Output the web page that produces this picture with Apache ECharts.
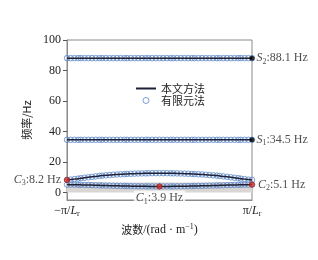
<!DOCTYPE html>
<html><head><meta charset="utf-8">
<script src="https://cdn.jsdelivr.net/npm/echarts@6/dist/echarts.min.js"></script>
<style>html,body{margin:0;padding:0;background:#fff}#c{width:318px;height:260px}</style>
</head><body><div id="c"></div>
<script>
// wave number grid, in units of pi/Lr
var waveK = [-1,-0.96,-0.92,-0.88,-0.85,-0.81,-0.77,-0.73,-0.69,-0.65,-0.62,-0.58,-0.54,-0.5,-0.46,-0.42,-0.38,-0.35,-0.31,-0.27,-0.23,-0.19,-0.15,-0.12,-0.08,-0.04,0,
  0.04,0.08,0.12,0.15,0.19,0.23,0.27,0.31,0.35,0.38,0.42,0.46,0.5,0.54,0.58,0.62,0.65,0.69,0.73,0.77,0.81,0.85,0.88,0.92,0.96,1];
var branchS2 = [88.1,88.1,88.1,88.1,88.1,88.1,88.1,88.1,88.1,88.1,88.1,88.1,88.1,88.1,88.1,88.1,88.1,88.1,88.1,88.1,88.1,88.1,88.1,88.1,88.1,88.1,88.1,
  88.1,88.1,88.1,88.1,88.1,88.1,88.1,88.1,88.1,88.1,88.1,88.1,88.1,88.1,88.1,88.1,88.1,88.1,88.1,88.1,88.1,88.1,88.1,88.1,88.1,88.1];
var branchS1 = [34.5,34.5,34.5,34.5,34.5,34.5,34.5,34.5,34.5,34.5,34.5,34.5,34.5,34.5,34.5,34.5,34.5,34.5,34.5,34.5,34.5,34.5,34.5,34.5,34.5,34.5,34.5,
  34.5,34.5,34.5,34.5,34.5,34.5,34.5,34.5,34.5,34.5,34.5,34.5,34.5,34.5,34.5,34.5,34.5,34.5,34.5,34.5,34.5,34.5,34.5,34.5,34.5,34.5];
var branchUpper = [8.2,8.4,8.7,9.0,9.3,9.6,9.9,10.2,10.5,10.8,11.0,11.2,11.4,11.6,11.75,11.9,12.0,12.1,12.2,12.3,12.4,12.45,12.5,12.55,12.6,12.6,12.6,
  12.6,12.6,12.55,12.5,12.45,12.4,12.3,12.2,12.1,12.0,11.9,11.75,11.6,11.4,11.2,11.0,10.8,10.5,10.2,9.9,9.6,9.3,9.0,8.7,8.4,8.2];
var branchLower = [5.1,5.08,5.04,5.0,4.95,4.9,4.85,4.78,4.7,4.63,4.56,4.5,4.43,4.37,4.3,4.25,4.2,4.15,4.1,4.06,4.02,3.99,3.96,3.94,3.92,3.91,3.9,
  3.91,3.92,3.94,3.96,3.99,4.02,4.06,4.1,4.15,4.2,4.25,4.3,4.37,4.43,4.5,4.56,4.63,4.7,4.78,4.85,4.9,4.95,5.0,5.04,5.08,5.1];
var yTicks = [0,20,40,60,80,100];
var xTicks = [-1,1];
var bandRange = [0,6.5];
// annotated points: [k, f, letter, sub, value text]
var blackPts = [[1,88.1,'S','2','88.1 Hz'],[1,34.5,'S','1','34.5 Hz']];
var redPts = [[-1,8.2,'C','3','8.2 Hz','left'],[1,5.1,'C','2','5.1 Hz','right'],[0,3.9,'C','1','3.9 Hz','bottom']];

var serif = '"Liberation Serif","DejaVu Serif",serif';
var cjk = '"Noto Sans CJK SC",sans-serif';
var lineColor = '#1c2038', circColor = '#5a86c8';
var rich = {
  t:{fontFamily:serif,fontSize:12,color:'#222'},
  i:{fontFamily:serif,fontSize:12,fontStyle:'italic',color:'#222'},
  s:{fontFamily:serif,fontSize:8,color:'#222',verticalAlign:'bottom',padding:[7,0,0,0]},
  c:{fontFamily:cjk,fontSize:11,color:'#222'}
};
function pairs(arr){return waveK.map(function(k,i){return [k,arr[i]];});}
var branches = [branchS2,branchS1,branchUpper,branchLower];
var series = [];
branches.forEach(function(b,bi){
  series.push({type:'scatter',name:'有限元法',data:pairs(b),symbol:'circle',symbolSize:5.5,z:2,
    itemStyle:{color:'rgba(255,255,255,0)',borderColor:circColor,borderWidth:1},
    markArea: bi===0 ? {silent:true,itemStyle:{color:'#d9d6d4'},data:[[{yAxis:bandRange[0]},{yAxis:bandRange[1]}]]} : undefined});
  series.push({type:'line',name:'本文方法',data:pairs(b),showSymbol:false,symbol:'none',smooth:true,z:3,
    lineStyle:{color:lineColor,width:1.5},itemStyle:{color:lineColor}});
});
series.push({type:'scatter',data:blackPts.map(function(p){return {value:[p[0],p[1]],lab:p};}),symbolSize:5,z:5,
  itemStyle:{color:'#000'},
  label:{show:true,position:'right',distance:2,rich:rich,formatter:function(p){var d=p.data.lab;return '{i|'+d[2]+'}{s|'+d[3]+'}{t|:'+d[4]+'}';}}});
redPts.forEach(function(p){
  series.push({type:'scatter',data:[{value:[p[0],p[1]]}],symbolSize:5.5,z:5,
    itemStyle:{color:'#d42a20',borderColor:'#7a1010',borderWidth:0.5},
    label:{show:true,position:p[5],distance:p[5]==='bottom'?1:3,rich:rich,
      backgroundColor:p[5]==='bottom'?'#fff':'transparent',padding:p[5]==='bottom'?[0,2,0,2]:0,
      formatter:'{i|'+p[2]+'}{s|'+p[3]+'}{t|:'+p[4]+'}'}});
});

var chart = echarts.init(document.getElementById('c'));
chart.setOption({
  animation:false,
  grid:{left:67,right:66,top:40,bottom:60,show:true,borderColor:'#8a8a8a',borderWidth:1},
  legend:{orient:'vertical',left:131,top:78,itemGap:1,itemWidth:20,itemHeight:6,
    textStyle:{fontFamily:cjk,fontSize:11,color:'#222'},
    data:[{name:'本文方法',icon:'path://M0,0h20v2h-20z',itemStyle:{color:lineColor}},
          {name:'有限元法',icon:'circle',itemStyle:{color:'rgba(255,255,255,0)',borderColor:circColor,borderWidth:1}}]},
  xAxis:{type:'value',min:-1,max:1,
    name:'{c|波数}{t|/(rad · m}{s2|−1}{t|)}',nameLocation:'middle',nameGap:20,
    nameTextStyle:{fontFamily:cjk,fontSize:11,color:'#222',rich:{
      c:{fontFamily:cjk,fontSize:11,color:'#222'},
      t:{fontFamily:serif,fontSize:12,color:'#222'},
      s2:{fontFamily:serif,fontSize:8,color:'#222',verticalAlign:'top',padding:[0,0,6,0]}}},
    axisLine:{onZero:false,lineStyle:{color:'#8a8a8a'}},axisTick:{show:false},splitLine:{show:false},
    axisLabel:{customValues:xTicks,margin:3,rich:rich,formatter:function(v){return v<0?'{t|−π/}{i|L}{s|r}':'{t|π/}{i|L}{s|r}';}}},
  yAxis:{type:'value',min:-5,max:100,
    name:'频率/Hz',nameLocation:'middle',nameGap:29,nameRotate:90,
    nameTextStyle:{fontFamily:cjk,fontSize:11,color:'#222'},
    axisLine:{show:true,onZero:false,lineStyle:{color:'#8a8a8a'}},
    axisTick:{show:true,customValues:yTicks,length:4,lineStyle:{color:'#555'}},
    splitLine:{show:false},
    axisLabel:{customValues:yTicks,margin:6,fontFamily:serif,fontSize:12,color:'#222'}},
  series:series
});
</script></body></html>
